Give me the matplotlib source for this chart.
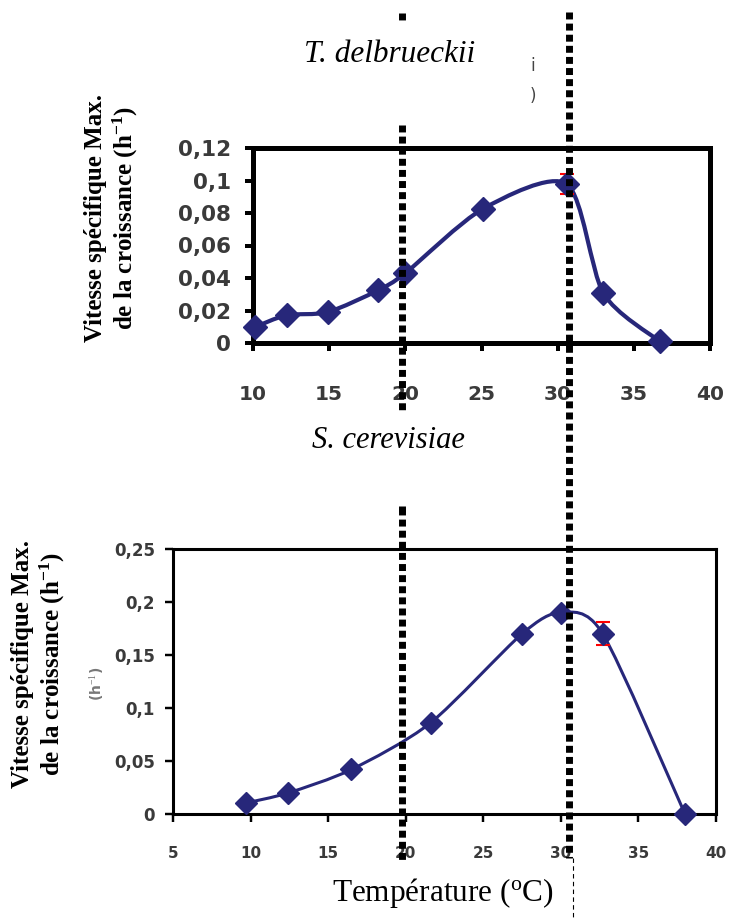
import numpy as np
import matplotlib
matplotlib.use("Agg")
import matplotlib.pyplot as plt
from matplotlib.path import Path
from matplotlib.patches import PathPatch
from matplotlib.lines import Line2D

# T. delbrueckii
temp_td = [10.1, 12.2, 14.9, 18.2, 20.0, 25.1, 30.6, 33.0, 36.7]
mu_td = [0.0097, 0.0171, 0.0190, 0.0324, 0.0430, 0.0826, 0.0978, 0.0306, 0.0010]
err_td = [0.001, 0.001, 0.001, 0.001, 0.002, 0.002, 0.006, 0.001, 0.0005]
xticks_td = [10, 15, 20, 25, 30, 35, 40]
yticks_td = [0, 0.02, 0.04, 0.06, 0.08, 0.1, 0.12]
ylabels_td = ["0", "0,02", "0,04", "0,06", "0,08", "0,1", "0,12"]

# S. cerevisiae
temp_sc = [9.7, 12.4, 16.5, 21.6, 27.5, 30.0, 32.7, 38.0]
mu_sc = [0.0104, 0.0198, 0.042, 0.086, 0.170, 0.190, 0.170, 0.0]
err_sc = [0.001, 0.003, 0.002, 0.001, 0.001, 0.002, 0.011, 0.0]
xticks_sc = [5, 10, 15, 20, 25, 30, 35, 40]
yticks_sc = [0, 0.05, 0.1, 0.15, 0.2, 0.25]
ylabels_sc = ["0", "0,05", "0,1", "0,15", "0,2", "0,25"]

navy = "#27277a"
W, H = 729, 918

plt.rcParams['mathtext.fontset'] = 'custom'
plt.rcParams['mathtext.rm'] = 'Liberation Serif'
plt.rcParams['mathtext.it'] = 'Liberation Serif:italic'
plt.rcParams['mathtext.bf'] = 'Liberation Serif:bold'


def smooth_path(x, y, k=7.5):
    # excel-like smoothed line, drawn as cubic bezier through the points
    x = np.asarray(x, float)
    y = np.asarray(y, float)
    n = len(x)
    verts = [(x[0], y[0])]
    codes = [Path.MOVETO]
    for i in range(n - 1):
        p0 = max(i - 1, 0)
        p3 = min(i + 2, n - 1)
        c1 = (x[i] + (x[i + 1] - x[p0]) / k, y[i] + (y[i + 1] - y[p0]) / k)
        c2 = (x[i + 1] - (x[p3] - x[i]) / k, y[i + 1] - (y[p3] - y[i]) / k)
        verts += [c1, c2, (x[i + 1], y[i + 1])]
        codes += [Path.CURVE4] * 3
    return Path(verts, codes)


def box(px_left, px_top, px_right, px_bottom):
    return [px_left / W, 1 - px_bottom / H, (px_right - px_left) / W, (px_bottom - px_top) / H]


def draw_panel(ax, t, mu, err, xt, yt, ylab, xlim, ylim, lw_spine, lw_line, ms, fsx, fsy, xpad, ypad):
    ax.add_patch(PathPatch(smooth_path(t, mu), fill=False, edgecolor=navy, lw=lw_line,
                           transform=ax.transData, zorder=2, clip_on=False))
    ax.errorbar(t, mu, yerr=err, fmt='none', ecolor='red', elinewidth=1.5, capsize=5,
                capthick=1.5, zorder=3, clip_on=False)
    ax.plot(t, mu, 'D', color=navy, ms=ms, zorder=4, clip_on=False)
    ax.set_xlim(*xlim)
    ax.set_ylim(*ylim)
    ax.set_xticks(xt)
    ax.set_xticklabels([str(v) for v in xt])
    ax.set_yticks(yt)
    ax.set_yticklabels(ylab)
    for s in ax.spines.values():
        s.set_linewidth(lw_spine)
    ax.tick_params(axis='both', direction='out', length=6, width=lw_spine * 0.8,
                   labelcolor='#3a3a3a')
    ax.tick_params(axis='x', pad=xpad, labelsize=fsx)
    ax.tick_params(axis='y', pad=ypad, labelsize=fsy)
    for lab in ax.get_xticklabels() + ax.get_yticklabels():
        lab.set_fontfamily('DejaVu Sans')
        lab.set_fontweight('bold')


fig = plt.figure(figsize=(W / 100, H / 100), dpi=100)

ax1 = fig.add_axes(box(253, 148, 710, 343))
draw_panel(ax1, temp_td, mu_td, err_td, xticks_td, yticks_td, ylabels_td,
           (10, 40), (0, 0.12), 3.6, 3.0, 12.5, 14.5, 15.5, 24, 10)

ax2 = fig.add_axes(box(173, 549, 716, 814))
draw_panel(ax2, temp_sc, mu_sc, err_sc, xticks_sc, yticks_sc, ylabels_sc,
           (5, 40), (0, 0.25), 2.2, 2.2, 11, 11, 12, 17, 7)

ylab = "Vitesse spécifique Max.\nde la croissance (h$^{\\mathbf{-1}}$)"
fig.text(112 / W, 1 - 218 / H, ylab, rotation=90, ha='center', va='center',
         family='Liberation Serif', weight='bold', fontsize=18, linespacing=1.15)
fig.text(39 / W, 1 - 664 / H, ylab, rotation=90, ha='center', va='center',
         family='Liberation Serif', weight='bold', fontsize=18, linespacing=1.15)

fig.text(390 / W, 1 - 55 / H, "T. delbrueckii", ha='center', va='center',
         family='Liberation Serif', style='italic', fontsize=22.5)
fig.text(388 / W, 1 - 440 / H, "S. cerevisiae", ha='center', va='center',
         family='Liberation Serif', style='italic', fontsize=22)
fig.text(443 / W, 1 - 893 / H, "Température ($^{\\mathrm{o}}$C)", ha='center', va='center',
         family='Liberation Serif', fontsize=22.5)

# scan leftovers
fig.text(533 / W, 1 - 66 / H, "i", ha='center', va='center', color='#444444', fontsize=12)
fig.text(533 / W, 1 - 96 / H, ")", ha='center', va='center', color='#444444', fontsize=12)
fig.text(97 / W, 1 - 684 / H, "(h$^{-1}$)", rotation=90, ha='center', va='center',
         color='#777777', fontsize=10, weight='bold')

# dotted guide lines
dot = dict(color='black', lw=5, linestyle=(0, (1.0, 0.6)), dash_capstyle='butt',
           solid_capstyle='butt', transform=fig.transFigure, zorder=10)
segments = [(402, 13, 22), (402, 125, 411), (402, 506, 512), (402, 508, 862), (569, 12, 858)]
for xp, y0, y1 in segments:
    fig.add_artist(Line2D([xp / W, xp / W], [1 - y0 / H, 1 - y1 / H], **dot))
fig.add_artist(Line2D([573 / W, 573 / W], [1 - 858 / H, 1 - 918 / H], color='black', lw=0.8,
                      linestyle=(0, (4, 3)), transform=fig.transFigure, zorder=10))

fig.savefig("out.png", dpi=100)
